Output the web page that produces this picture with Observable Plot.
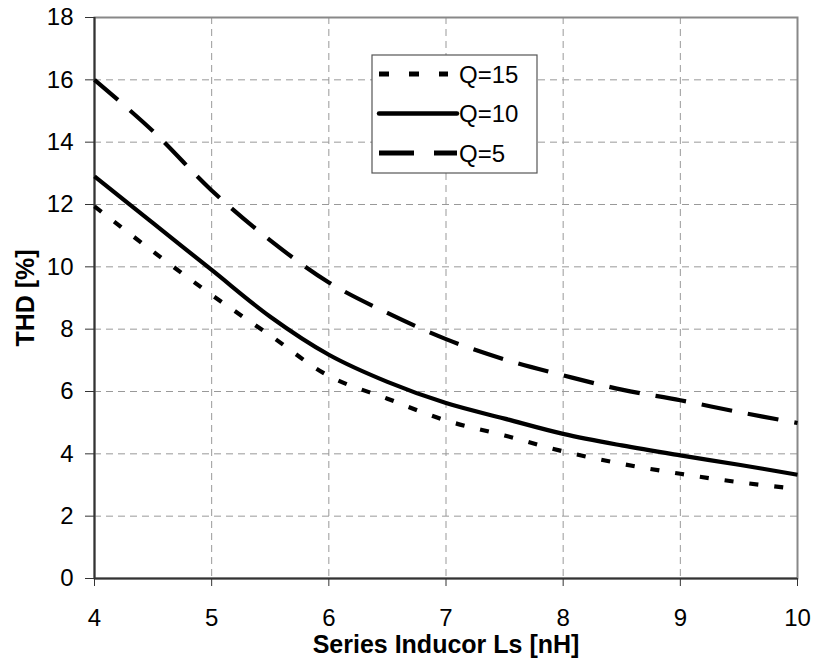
<!DOCTYPE html>
<html>
<head>
<meta charset="utf-8">
<script src="https://cdn.jsdelivr.net/npm/d3@7"></script>
<script src="https://cdn.jsdelivr.net/npm/@observablehq/plot@0.6"></script>
<style>
  html, body { margin: 0; padding: 0; background: #fff; }
  #chart svg { font-family: "Liberation Sans", Arial, sans-serif; }
  #chart svg [aria-label="x-axis label"] text,
  #chart svg [aria-label="y-axis label"] text { font-weight: bold; font-size: 25px; }
</style>
</head>
<body>
<div id="chart"></div>
<script>
// ---- data ----
const inductance = [4, 4.5, 5, 5.5, 6, 6.5, 7, 7.5, 8, 8.5, 9, 9.5, 10];
const thdQ15 = [11.94, 10.49, 9.1, 7.8, 6.5, 5.77, 5.07, 4.59, 4.08, 3.68, 3.36, 3.09, 2.87];
const thdQ10 = [12.9, 11.4, 9.9, 8.4, 7.18, 6.31, 5.63, 5.13, 4.64, 4.27, 3.95, 3.65, 3.33];
const thdQ5  = [16.0, 14.35, 12.45, 10.85, 9.5, 8.52, 7.68, 7.03, 6.52, 6.06, 5.72, 5.34, 4.99];
const seriesNames = ["Q=15", "Q=10", "Q=5"];
const xTicks = [4, 5, 6, 7, 8, 9, 10];
const yTicks = [0, 2, 4, 6, 8, 10, 12, 14, 16, 18];
const xTitle = "Series Inducor Ls [nH]";
const yTitle = "THD [%]";

const seriesValues = [thdQ15, thdQ10, thdQ5];
const dashes = ["9,16", null, "31,16"];
const rows = seriesNames.flatMap((s, i) => inductance.map((x, j) => ({x, y: seriesValues[i][j], s})));

const W = 816, H = 658;
const mL = 94, mR = 19, mT = 17, mB = 80;

const lineMarks = seriesNames.map((s, i) =>
  Plot.line(rows.filter(d => d.s === s), {
    x: "x", y: "y", stroke: "#000", strokeWidth: 4.2,
    strokeDasharray: dashes[i] ?? undefined, curve: "catmull-rom",
    strokeLinecap: "butt"
  })
);

const chart = Plot.plot({
  width: W, height: H,
  marginLeft: mL, marginRight: mR, marginTop: mT, marginBottom: mB,
  style: {fontSize: "24px", fontFamily: "'Liberation Sans', Arial, sans-serif", color: "#000", background: "#fff", overflow: "visible"},
  x: {domain: [4, 10]},
  y: {domain: [0, 18]},
  marks: [
    Plot.gridX({ticks: xTicks.slice(1, -1), stroke: "#999", strokeOpacity: 1, strokeDasharray: "7,5"}),
    Plot.gridY({ticks: yTicks.slice(1, -1), stroke: "#999", strokeOpacity: 1, strokeDasharray: "7,5"}),
    Plot.frame({stroke: "#888", strokeWidth: 2}),
    Plot.ruleX([4], {stroke: "#333", strokeWidth: 2}),
    Plot.ruleY([0], {stroke: "#333", strokeWidth: 2}),
    Plot.axisX({ticks: xTicks, tickFormat: d => String(d), tickSize: 8, tickPadding: 22, stroke: "#333",
      label: xTitle, labelAnchor: "center", labelOffset: 74, labelArrow: "none"}),
    Plot.axisY({ticks: yTicks, tickFormat: d => String(d), tickSize: 9, tickPadding: 12, stroke: "#333",
      label: yTitle, labelAnchor: "center", labelOffset: 78, labelArrow: "none"}),
    ...lineMarks
  ]
});
document.getElementById("chart").appendChild(chart);

// ---- legend (drawn in pixel space on top of the plot) ----
const svg = d3.select(chart);
const lg = svg.append("g").attr("transform", "translate(372,55)");
lg.append("rect").attr("width", 165).attr("height", 118)
  .attr("fill", "#fff").attr("stroke", "#555").attr("stroke-width", 1.2);
const sampleEnd = [76, 85, 85];
seriesNames.forEach((s, i) => {
  const y = 19 + i * 39.5;
  lg.append("line").attr("x1", 7).attr("x2", sampleEnd[i]).attr("y1", y).attr("y2", y)
    .attr("stroke", "#000").attr("stroke-width", i === 1 ? 4.5 : 5)
    .attr("stroke-linecap", i === 1 ? "round" : "butt")
    .attr("stroke-dasharray", i === 0 ? "10,20" : (i === 2 ? "35,20" : null));
  lg.append("text").attr("x", 87).attr("y", y).attr("dy", "0.36em")
    .attr("text-anchor", "start")
    .attr("font-size", 24).attr("fill", "#000").text(s);
});
</script>
</body>
</html>
